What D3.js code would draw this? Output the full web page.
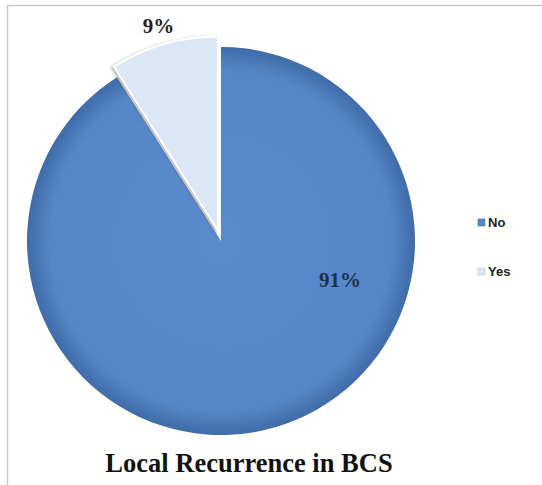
<!DOCTYPE html>
<meta charset="utf-8">
<style>
	body { margin: 0; background: #fff; }
	.pct {
		font: bold 21px "Liberation Serif", serif;
		text-anchor: middle;
	}
	.legend text {
		font: bold 13px "Liberation Sans", Arial, sans-serif;
		fill: #222;
	}
	.title {
		font: bold 26.5px "Liberation Serif", serif;
		text-anchor: middle;
		fill: #111;
	}
</style>
<body>
<script src="https://d3js.org/d3.v7.min.js"></script>
<script>

	var categories = ["No", "Yes"];
	var values = [91, 9];
	var pctLabels = ["91%", "9%"];
	var title = "Local Recurrence in BCS";

	var width = 542,
		height = 485,
		cx = 221,
		cy = 241,
		radius = 194,
		explode = 11;

	var color = d3.scaleOrdinal()
		.domain(categories)
		.range(["#5587c9", "#dce7f6"]);

	var svg = d3.select("body").append("svg")
		.attr("width", width)
		.attr("height", height);

	// chart frame (only top and left visible in the source)
	svg.append("line").attr("x1", 8).attr("y1", 5.5).attr("x2", width).attr("y2", 5.5)
		.style("stroke", "#c8c8c8").style("stroke-width", 1.5);
	svg.append("line").attr("x1", 7.5).attr("y1", 5).attr("x2", 7.5).attr("y2", height)
		.style("stroke", "#c8c8c8").style("stroke-width", 1.5);

	var defs = svg.append("defs");
	var grad = defs.append("radialGradient")
		.attr("id", "noGrad")
		.attr("gradientUnits", "userSpaceOnUse")
		.attr("cx", 0).attr("cy", 0).attr("r", radius);
	grad.append("stop").attr("offset", "0%").attr("stop-color", "#588bce");
	grad.append("stop").attr("offset", "88%").attr("stop-color", "#5586c8");
	grad.append("stop").attr("offset", "100%").attr("stop-color", "#406ca8");

	var shadow = defs.append("filter").attr("id", "shadow")
		.attr("x", "-20%").attr("y", "-20%").attr("width", "140%").attr("height", "140%");
	shadow.append("feDropShadow")
		.attr("dx", -2).attr("dy", 1).attr("stdDeviation", 1.5)
		.attr("flood-color", "#555").attr("flood-opacity", 0.45);

	var pie = d3.pie()
		.sort(null)
		.value(function(d) { return d; });

	var arc = d3.arc()
		.outerRadius(radius)
		.innerRadius(0);

	var arcs = pie(values);

	var g = svg.append("g")
		.attr("transform", "translate(" + cx + "," + cy + ")");

	g.selectAll(".slice")
		.data(arcs)
		.enter().append("path")
		.attr("class", "slice")
		.attr("transform", function(d, i) {
			if (i === 0) return null;
			var a = (d.startAngle + d.endAngle) / 2;
			return "translate(" + (Math.sin(a) * explode) + "," + (-Math.cos(a) * explode) + ")";
		})
		.attr("d", arc)
		.style("fill", function(d, i) { return i === 0 ? "url(#noGrad)" : color(categories[i]); })
		.style("stroke", "#fff")
		.style("stroke-width", function(d, i) { return i === 0 ? 0 : 2; })
		.style("filter", function(d, i) { return i === 0 ? null : "url(#shadow)"; });

	// percentage labels
	var labelPos = [
		{ angle: 108, r: 125 },
		{ angle: -16.2, r: 224 }
	];
	g.selectAll(".pct")
		.data(arcs)
		.enter().append("text")
		.attr("class", "pct")
		.attr("x", function(d, i) { return Math.sin(labelPos[i].angle * Math.PI / 180) * labelPos[i].r; })
		.attr("y", function(d, i) { return -Math.cos(labelPos[i].angle * Math.PI / 180) * labelPos[i].r; })
		.attr("dy", ".35em")
		.style("fill", function(d, i) { return i === 0 ? "#1f2f4f" : "#222"; })
		.text(function(d, i) { return pctLabels[i]; });

	// legend
	var legend = svg.selectAll(".legend")
		.data(categories)
		.enter().append("g")
		.attr("class", "legend")
		.attr("transform", function(d, i) { return "translate(478," + (219 + i * 49) + ")"; });

	legend.append("rect")
		.attr("width", 7)
		.attr("height", 7)
		.style("fill", function(d) { return color(d); })
		.style("stroke", function(d, i) { return i === 0 ? "#4a78b8" : "#b8c4d4"; })
		.style("stroke-width", 0.6);

	legend.append("text")
		.attr("x", 10)
		.attr("y", 8)
		.text(function(d) { return d; });

	svg.append("text")
		.attr("class", "title")
		.attr("x", 249)
		.attr("y", 472)
		.text(title);
</script>
